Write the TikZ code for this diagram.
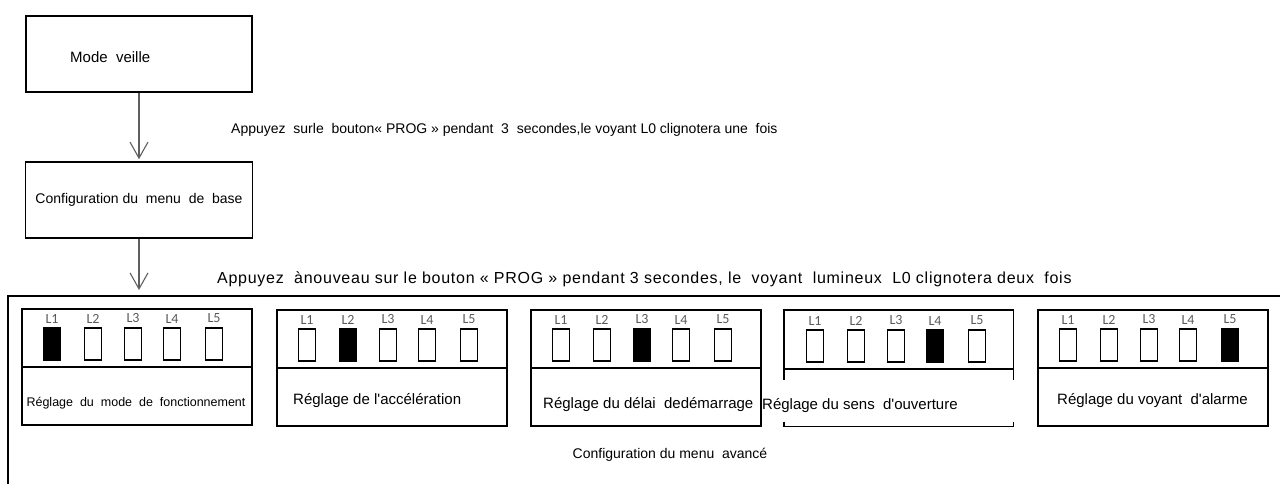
\documentclass[tikz,border=0pt]{standalone}
\usepackage{fontspec}
\setmainfont{Liberation Sans}
\newfontfamily\ledfont{Carlito}
\newfontfamily\widefont[LetterSpace=4.6]{Liberation Sans}
\usepackage{tikz}
\usetikzlibrary{positioning, arrows.meta}
\definecolor{flowgray}{RGB}{95, 95, 95}
\definecolor{ledgray}{RGB}{90, 90, 90}
\tikzset{
  box/.style={draw, line width=1.6pt, rectangle, inner sep=0pt},
  panel/.style={box, minimum width=230pt, minimum height=116pt, anchor=north west},
  led/.style={draw, line width=1.5pt, inner sep=0pt, minimum width=17pt, minimum height=32pt},
  ledlabel/.style={font=\ledfont\fontsize{14}{15}\selectfont, text=ledgray, inner sep=0pt},
  flow/.style={draw=flowgray, line width=1.1pt, -{Straight Barb[length=16pt, width=18pt, line width=1.1pt]}},
  note/.style={font=\fontsize{15}{17}\selectfont, inner sep=0pt},
}
\newcommand{\ledpanel}[5][]{
  \node[panel, #1] (#2) at (#3,#4) {};
  \draw[line width=1.6pt] ([yshift=-59pt]#2.north west) -- ([yshift=-59pt]#2.north east);
  \foreach \i/\dx in {1/31,2/72,3/112,4/151,5/193}
  {
    \ifnum\i=#5 \def\ledfill{black}\else\def\ledfill{white}\fi
    \node[led, fill=\ledfill] (#2-L\i) at ([xshift=\dx pt, yshift=-36pt]#2.north west) {};
    \node[ledlabel, above=4pt of #2-L\i] (#2-t\i) {L\i};
  }
}

\begin{document}
\begin{tikzpicture}[x=1pt, y=-1pt]
    \useasboundingbox (0,0) rectangle (1280,484);

    % basic menu
    \node[box, minimum width=226pt, minimum height=76pt] (veille) at (139,54) {};
    \node[note, anchor=west] (veilletxt) at (70,57) {Mode~~veille};
    \node[box, minimum width=227pt, minimum height=76pt, font=\fontsize{14}{16}\selectfont] (base) at (139,200) {Configuration du~~menu~~de~~base};
    \coordinate (advtop) at (139,296);
    \draw[flow, shorten >=2pt] (veille) -- (base);
    \draw[flow, shorten >=6pt] (base) -- (advtop);
    \node[note, font=\fontsize{14}{16}\selectfont, anchor=west] (step1) at (231,130) {Appuyez~~surle~~bouton« PROG » pendant~~3~~secondes,le voyant L0 clignotera une~~fois};
    \node[note, font=\widefont\fontsize{16}{18}\selectfont, anchor=west] (step2) at (217,279) {Appuyez~~ànouveau sur le bouton « PROG » pendant 3 secondes, le~~voyant~~lumineux~~L0 clignotera deux~~fois};

    % advanced menu
    \draw[line width=1.6pt] (8,484) |- (1280,296);
    \ledpanel{mode}{21}{308}{1}
    \ledpanel{accel}{276}{309}{2}
    \ledpanel{delai}{530}{309}{3}
    \ledpanel[draw=none, minimum width=228pt, minimum height=115pt]{sens}{784}{310}{4}
    \ledpanel{alarme}{1037}{309}{5}
    \draw[line width=1.6pt] ([yshift=-70pt]sens.north west) |- (sens.north east) -- ([yshift=-70pt]sens.north east);
    \draw[line width=1.6pt] ([yshift=5pt]sens.south west) |- (sens.south east) -- ([yshift=5pt]sens.south east);

    \node[font=\fontsize{12.5}{14}\selectfont, inner sep=0pt] (mode-txt) at (136,403) {Réglage~~du~~mode~~de~~fonctionnement};
    \node[note, anchor=west] (accel-txt) at (293,401) {Réglage de l\textquotesingle accélération};
    \node[note, anchor=west] (delai-txt) at (543,405) {Réglage du délai~~dedémarrage};
    \node[note, anchor=west] (sens-txt) at (762,406) {Réglage du sens~~d\textquotesingle ouverture};
    \node[note, anchor=west] (alarme-txt) at (1057,401) {Réglage du voyant~~d\textquotesingle alarme};
    \node[font=\fontsize{14}{16}\selectfont, inner sep=0pt] (avance-txt) at (670,455) {Configuration du menu~~avancé};
\end{tikzpicture}
\end{document}
